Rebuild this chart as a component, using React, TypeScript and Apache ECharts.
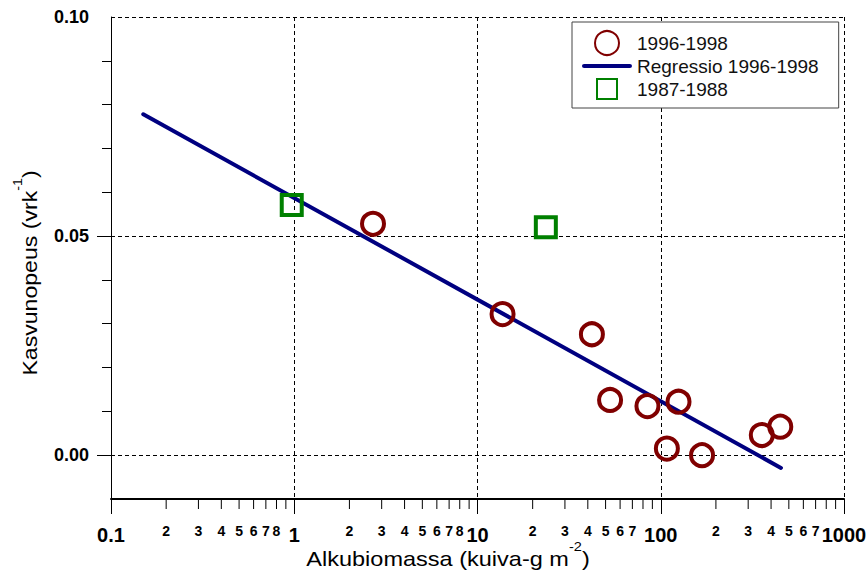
import React, { useEffect, useRef } from 'react';
import * as echarts from 'echarts';

// ---- data ----
const circleX = [2.69, 13.7, 42.1, 52.9, 84.6, 125, 108, 168, 356, 449];
const circleY = [0.0528, 0.0322, 0.0276, 0.0126, 0.0112, 0.0122, 0.0015, 0.0, 0.0046, 0.0065];
const squareX = [0.969, 23.6];
const squareY = [0.0571, 0.052];
const regX = [0.15, 453];
const regY = [0.0778, -0.0029];

const seriesNames = ['1996-1998', 'Regressio 1996-1998', '1987-1988'];

const X_MIN = 0.1;
const X_MAX = 1000;
const Y_MIN = -0.01;
const Y_MAX = 0.1;
const Y_STEP = 0.01;

const xMajorLabels = ['0.1', '1', '10', '100', '1000'];
const xMinorTicks = [
  0.2, 0.3, 0.4, 0.5, 0.6, 0.7, 0.8, 0.9,
  2, 3, 4, 5, 6, 7, 8, 9,
  20, 30, 40, 50, 60, 70, 80, 90,
  200, 300, 400, 500, 600, 700, 800, 900,
];
const xMinorLabelValues = [
  0.2, 0.3, 0.4, 0.5, 0.6, 0.7, 0.8,
  2, 3, 4, 5, 6, 7, 8,
  20, 30, 40, 50, 60, 70,
  200, 300, 400, 500, 600, 700,
];
const xMinorLabelTexts = [
  '2', '3', '4', '5', '6', '7', '8',
  '2', '3', '4', '5', '6', '7', '8',
  '2', '3', '4', '5', '6', '7',
  '2', '3', '4', '5', '6', '7',
];
const yLabelValues = [0, 0.05, 0.1];
const yLabelTexts = ['0.00', '0.05', '0.10'];
const yMajorTicks = [0, 0.05];
const yMinorTicks = [0.01, 0.02, 0.03, 0.04, 0.06, 0.07, 0.08, 0.09];

const FONT = "'Liberation Sans', Arial, Helvetica, sans-serif";
const RED = '#800000';
const NAVY = '#000080';
const GREEN = '#008000';

function findLabel(v: number): string {
  for (let i = 0; i < yLabelValues.length; i++) {
    if (Math.abs(v - yLabelValues[i]) < 1e-9) return yLabelTexts[i];
  }
  return '';
}

const hiddenYAxisBase = {
  type: 'value',
  position: 'left',
  offset: 0,
  min: Y_MIN,
  max: Y_MAX,
  interval: Y_STEP,
  axisLine: { show: false, onZero: false },
  axisLabel: { show: false },
};

export default function App() {
  const ref = useRef<HTMLDivElement>(null);

  useEffect(() => {
    if (!ref.current) return;
    const chart = echarts.init(ref.current, undefined, { renderer: 'svg' });

    const option: any = {
      animation: false,
      backgroundColor: '#fff',
      grid: { left: 111, right: 23, top: 17, bottom: 79, outerBoundsMode: 'none' },
      xAxis: {
        type: 'log',
        logBase: 10,
        min: X_MIN,
        max: X_MAX,
        axisLine: { show: true, onZero: false, lineStyle: { color: '#000', width: 2 } },
        axisTick: { show: true, length: 15, lineStyle: { color: '#000', width: 1 } },
        axisLabel: {
          formatter: (_v: number, i: number) => xMajorLabels[i] ?? '',
          fontSize: 20,
          fontWeight: 'bold',
          fontFamily: FONT,
          color: '#000',
          margin: 26,
        },
        splitLine: { show: true, lineStyle: { color: '#000', width: 1, type: [4, 3] } },
        minorTick: { show: false },
      },
      yAxis: [
        {
          type: 'value',
          position: 'left',
          min: Y_MIN,
          max: Y_MAX,
          interval: Y_STEP,
          axisLine: { show: true, onZero: false, lineStyle: { color: '#000', width: 1 } },
          axisTick: {
            show: true,
            length: 9,
            customValues: yMinorTicks,
            lineStyle: { color: '#000', width: 1 },
          },
          axisLabel: {
            customValues: yLabelValues,
            formatter: (v: number) => findLabel(v),
            fontSize: 18,
            fontWeight: 'bold',
            fontFamily: FONT,
            color: '#000',
            margin: 22,
          },
          splitLine: { show: false },
        },
        {
          ...hiddenYAxisBase,
          axisTick: {
            show: true,
            length: 14,
            customValues: yMajorTicks,
            lineStyle: { color: '#000', width: 1 },
          },
          splitLine: { show: false },
        },
        {
          ...hiddenYAxisBase,
          axisTick: { show: false, customValues: yLabelValues },
          splitLine: { show: true, lineStyle: { color: '#000', width: 1, type: [4, 3] } },
        },
      ],
      legend: {
        orient: 'vertical',
        left: 572,
        top: 22,
        padding: [8, 20, 6, 10],
        itemWidth: 50,
        itemHeight: 24,
        itemGap: 0.5,
        backgroundColor: '#fff',
        borderColor: '#444',
        borderWidth: 1,
        borderRadius: 0,
        selectedMode: false,
        textStyle: { fontSize: 19, fontFamily: FONT, color: '#111' },
        data: [
          { name: seriesNames[0], icon: 'circle' },
          {
            name: seriesNames[1],
            icon: 'path://M2,0L46,0A2,2,0,0,1,46,4L2,4A2,2,0,0,1,2,0Z',
            itemStyle: { color: NAVY, borderWidth: 0 },
          },
          { name: seriesNames[2], icon: 'path://M0,0M24,24M2,2L22,2L22,22L2,22Z' },
        ],
      },
      series: [
        {
          name: seriesNames[1],
          type: 'line',
          data: regX.map((x, i) => [x, regY[i]]),
          symbol: 'none',
          lineStyle: { color: NAVY, width: 4, cap: 'round' },
          itemStyle: { color: NAVY },
          z: 3,
        },
        {
          name: seriesNames[0],
          type: 'scatter',
          data: circleX.map((x, i) => [x, circleY[i]]),
          symbol: 'circle',
          symbolSize: 22,
          itemStyle: { color: 'rgba(255,255,255,0)', borderColor: RED, borderWidth: 4, opacity: 1 },
          z: 4,
        },
        {
          name: seriesNames[2],
          type: 'scatter',
          data: squareX.map((x, i) => [x, squareY[i]]),
          symbol: 'rect',
          symbolSize: 20,
          itemStyle: { color: 'rgba(255,255,255,0)', borderColor: GREEN, borderWidth: 4, opacity: 1 },
          z: 4,
        },
        // x minor ticks
        {
          type: 'custom',
          silent: true,
          clip: false,
          data: xMinorTicks.map((v) => [v, Y_MIN]),
          renderItem: (_p: any, api: any) => {
            const pt = api.coord([api.value(0), api.value(1)]);
            return {
              type: 'line',
              shape: { x1: pt[0], y1: pt[1], x2: pt[0], y2: pt[1] + 10 },
              style: { stroke: '#000', lineWidth: 1 },
            };
          },
          z: 5,
        },
        // x minor labels
        {
          type: 'custom',
          silent: true,
          clip: false,
          data: xMinorLabelValues.map((v) => [v, Y_MIN]),
          renderItem: (p: any, api: any) => {
            const pt = api.coord([api.value(0), api.value(1)]);
            return {
              type: 'text',
              x: pt[0],
              y: pt[1] + 32,
              style: {
                text: xMinorLabelTexts[p.dataIndex],
                fontSize: 14,
                fontWeight: 'bold',
                fontFamily: FONT,
                fill: '#000',
                align: 'center',
                verticalAlign: 'middle',
              },
            };
          },
          z: 5,
        },
      ],
      graphic: [
        {
          type: 'text',
          x: 448,
          y: 559,
          scaleX: 1.12,
          style: {
            text: '{a|Alkubiomassa (kuiva-g m}{s|-2}{a|)}',
            align: 'center',
            verticalAlign: 'middle',
            fill: '#000',
            rich: {
              a: { fontSize: 21, fontFamily: FONT, lineHeight: 38, fill: '#000' },
              s: { fontSize: 13, fontFamily: FONT, lineHeight: 13, verticalAlign: 'top', fill: '#000' },
            },
          },
        },
        {
          type: 'text',
          x: 30,
          y: 273,
          rotation: Math.PI / 2,
          scaleX: 1.1,
          style: {
            text: '{a|Kasvunopeus (vrk}{s|-1}{a|)}',
            align: 'center',
            verticalAlign: 'middle',
            fill: '#000',
            rich: {
              a: { fontSize: 21, fontFamily: FONT, lineHeight: 38, fill: '#000' },
              s: { fontSize: 13, fontFamily: FONT, lineHeight: 13, verticalAlign: 'top', fill: '#000' },
            },
          },
        },
      ],
    };

    chart.setOption(option);
    return () => {
      chart.dispose();
    };
  }, []);

  return (
    <div
      ref={ref}
      style={{ position: 'fixed', left: 0, top: 0, width: 867, height: 578, background: '#fff' }}
    />
  );
}
